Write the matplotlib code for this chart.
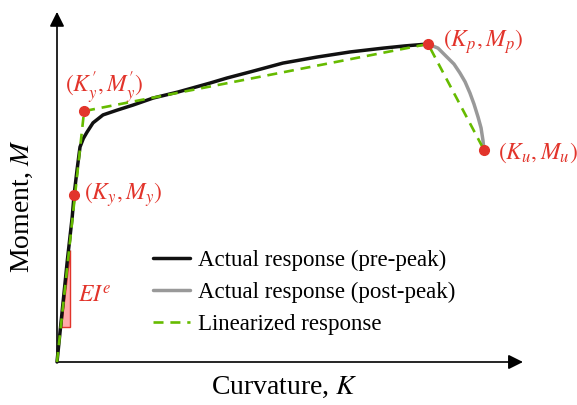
import numpy as np
import matplotlib
matplotlib.use("Agg")
from matplotlib import pyplot as plt
from matplotlib.patches import Polygon

plt.rcParams['font.family'] = ['Liberation Serif', 'DejaVu Serif']
plt.rcParams['mathtext.fontset'] = 'stix'

# normalised curvature / moment (peak = 1)
K_pre = [0.0, 0.017, 0.028, 0.041, 0.046, 0.054, 0.062, 0.071, 0.081, 0.097,
         0.124, 0.162, 0.205, 0.259, 0.326, 0.412, 0.458, 0.520, 0.609,
         0.701, 0.790, 0.879, 0.938, 1.0]
M_pre = [0.0, 0.195, 0.321, 0.456, 0.525, 0.604, 0.676, 0.703, 0.723, 0.752,
         0.777, 0.792, 0.808, 0.830, 0.849, 0.877, 0.893, 0.912, 0.940,
         0.959, 0.975, 0.987, 0.994, 1.0]

K_post = [1.0, 1.027, 1.051, 1.070, 1.086, 1.100, 1.113, 1.124, 1.135, 1.143,
          1.148, 1.151]
M_post = [1.0, 0.987, 0.959, 0.937, 0.909, 0.881, 0.846, 0.811, 0.770, 0.736,
          0.698, 0.667]

K_lin = [0.0, 0.073, 1.0, 1.151]
M_lin = [0.0, 0.789, 1.0, 0.667]

# key points: yield, effective yield, peak, ultimate
K_pts = [0.046, 0.073, 1.0, 1.151]
M_pts = [0.525, 0.789, 1.0, 0.667]
pt_labels = [r'$(K_y,M_y)$', r'$(K_y^{\prime},M_y^{\prime})$', r'$(K_p,M_p)$',
             r'$(K_u,M_u)$']
pt_offsets = [(7.5, 0), (-14, 17), (10.5, 1.5), (10, -2)]

# elastic stiffness triangle
tri_K = [0.010, 0.035, 0.035]
tri_M = [0.110, 0.110, 0.352]

red = '#e2342b'
green = '#66bb00'

fig = plt.figure(figsize=(5.77, 4.05), dpi=100)
ax = fig.add_axes([0, 0, 1, 1])
ax.set_xlim(-57/371, 520/371)
ax.set_ylim(-43/318, 362/318)
ax.axis('off')

# axes with arrow heads
arr = dict(arrowstyle='-|>', lw=1.2, color='k', mutation_scale=22, shrinkA=0, shrinkB=0)
ax.annotate('', xy=(1.256, 0), xytext=(0, 0), arrowprops=arr)
ax.annotate('', xy=(0, 1.101), xytext=(0, 0), arrowprops=arr)

tri = Polygon(np.column_stack([tri_K, tri_M]), closed=True, facecolor='#ffaaaa',
              edgecolor=red, lw=1.0, zorder=2)
ax.add_patch(tri)
ax.text(0.057, 0.204, r'$EI^e$', color=red, fontsize=17, ha='left', va='center')

ax.plot(K_pre, M_pre, color='#111111', lw=2.5, solid_capstyle='round',
        solid_joinstyle='round', zorder=3, label='Actual response (pre-peak)')
ax.plot(K_post, M_post, color='#999999', lw=2.5, solid_capstyle='round',
        solid_joinstyle='round', zorder=3, label='Actual response (post-peak)')
ax.plot(K_lin, M_lin, color=green, lw=1.9, dashes=(3.8, 2.6), zorder=4,
        label='Linearized response')

ax.plot(K_pts, M_pts, 'o', color=red, ms=7, zorder=5)
for k, m, lab, off in zip(K_pts, M_pts, pt_labels, pt_offsets):
    ax.annotate(lab, xy=(k, m), xytext=off, textcoords='offset points',
                color=red, fontsize=17, ha='left', va='center')

ax.text(0.612, -0.079, r'Curvature, $K$', fontsize=20, ha='center', va='center')
ax.text(-0.094, 0.491, r'Moment, $M$', fontsize=20, ha='center', va='center',
        rotation=90)

ax.legend(loc='upper left', bbox_to_anchor=(0.265, 0.383), frameon=False,
          fontsize=16.5, handlelength=1.6, handletextpad=0.35, labelspacing=0.48,
          borderpad=0, borderaxespad=0)

fig.savefig('out.png', dpi=100)
